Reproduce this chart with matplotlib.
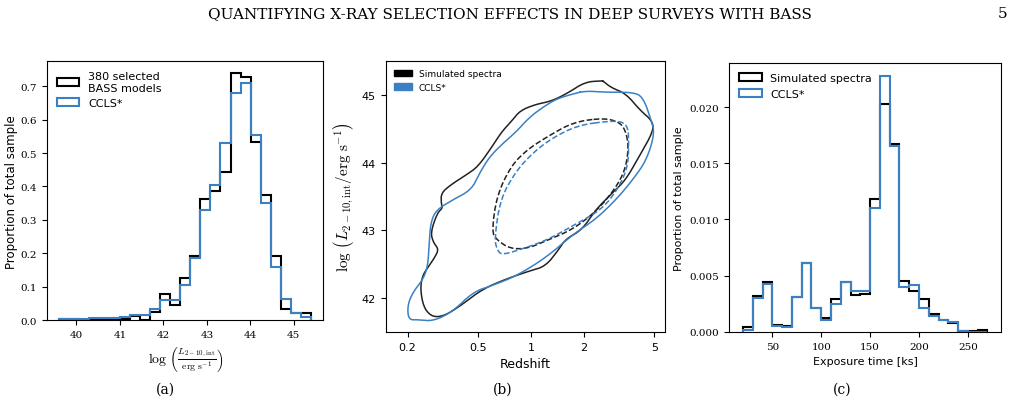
import numpy as np
import matplotlib
matplotlib.use("Agg")
import matplotlib.pyplot as plt
from matplotlib.patches import Patch

plt.rcParams["mathtext.fontset"] = "cm"
plt.rcParams["font.family"] = "DejaVu Sans"

BLUE = "#3a80c2"

# panel (a): log L histogram
lum_edges = np.linspace(39.6, 45.4, 26)
lum_bass = [0.002, 0.002, 0.001, 0.003, 0.003, 0.004, 0.004, 0.012, 0.0, 0.023,
            0.078, 0.045, 0.125, 0.193, 0.363, 0.387, 0.443, 0.740, 0.727, 0.533,
            0.375, 0.193, 0.033, 0.022, 0.022]
lum_ccls = [0.003, 0.002, 0.004, 0.005, 0.006, 0.007, 0.008, 0.016, 0.015, 0.033,
            0.060, 0.060, 0.105, 0.185, 0.330, 0.405, 0.530, 0.680, 0.710, 0.553,
            0.350, 0.158, 0.062, 0.022, 0.008]

# panel (c): exposure time histogram
exp_edges = np.arange(20, 271, 10)
exp_sim = [0.0004, 0.0032, 0.0044, 0.0006, 0.0005, 0.0031, 0.0061, 0.0021, 0.0012,
           0.0029, 0.0044, 0.0033, 0.0034, 0.0118, 0.0203, 0.0167, 0.0045, 0.0036,
           0.0029, 0.0016, 0.0011, 0.0008, 0.0001, 0.0001, 0.0002]
exp_ccls = [0.0002, 0.0030, 0.0043, 0.0005, 0.0004, 0.0031, 0.0061, 0.0021, 0.0011,
            0.0025, 0.0044, 0.0036, 0.0036, 0.0110, 0.0228, 0.0165, 0.0040, 0.0042,
            0.0021, 0.0014, 0.0011, 0.0009, 0.0001, 0.0, 0.0]

# panel (b): contour outlines, (redshift, log L)
sim_outer_z = [2.58, 2.52, 2.02, 1.62, 1.31, 1.06, 0.87, 0.78, 0.68, 0.60, 0.50, 0.43,
               0.35, 0.31, 0.31, 0.316, 0.295, 0.27, 0.28, 0.30, 0.285, 0.26, 0.243,
               0.236, 0.246, 0.27, 0.30, 0.34, 0.41, 0.53, 0.72, 0.98, 1.21, 1.44,
               1.57, 1.95, 2.32, 2.88, 3.43, 4.08, 4.95, 4.86, 4.17, 3.45, 2.84, 2.58]
sim_outer_l = [45.20, 45.21, 45.19, 45.03, 44.91, 44.86, 44.77, 44.62, 44.45, 44.23,
               43.94, 43.82, 43.67, 43.55, 43.40, 43.33, 43.26, 42.97, 42.82, 42.72,
               42.60, 42.45, 42.33, 42.14, 41.87, 41.74, 41.72, 41.77, 41.91, 42.13,
               42.28, 42.40, 42.47, 42.72, 42.87, 43.01, 43.30, 43.55, 43.74, 44.08,
               44.47, 44.62, 44.77, 45.02, 45.11, 45.20]
ccls_outer_z = [2.03, 1.70, 1.39, 1.17, 0.98, 0.82, 0.69, 0.58, 0.51, 0.46, 0.36, 0.29,
                0.27, 0.265, 0.26, 0.245, 0.215, 0.20, 0.202, 0.23, 0.28, 0.36, 0.47,
                0.61, 0.83, 1.22, 1.73, 2.34, 3.05, 3.78, 4.52, 5.02, 4.80, 4.31, 3.78,
                2.65, 2.03]
ccls_outer_l = [45.06, 45.01, 44.94, 44.82, 44.67, 44.45, 44.28, 44.08, 43.84, 43.60,
                43.45, 43.30, 43.11, 42.79, 42.47, 42.28, 42.09, 41.90, 41.68, 41.68,
                41.66, 41.80, 42.09, 42.19, 42.33, 42.60, 42.94, 43.17, 43.46, 43.75,
                44.04, 44.43, 44.63, 44.97, 45.04, 45.04, 45.06]
sim_inner_z = [2.58, 1.74, 1.23, 0.95, 0.77, 0.64, 0.60, 0.64, 0.76, 0.95, 1.23, 1.74,
               2.36, 2.99, 3.43, 3.58, 3.43, 3.16, 2.58]
sim_inner_l = [44.66, 44.60, 44.38, 44.19, 43.95, 43.51, 42.98, 42.86, 42.73, 42.73,
               42.85, 43.02, 43.29, 43.61, 43.90, 44.24, 44.48, 44.60, 44.66]
ccls_inner_z = [2.66, 1.84, 1.31, 1.02, 0.82, 0.67, 0.62, 0.65, 0.69, 0.88, 1.24, 1.76,
                2.53, 3.14, 3.55, 3.58, 3.55, 3.27, 2.66]
ccls_inner_l = [44.61, 44.55, 44.36, 44.14, 43.87, 43.46, 42.86, 42.69, 42.64, 42.72,
                42.86, 43.08, 43.31, 43.63, 43.95, 44.30, 44.52, 44.61, 44.61]


def smooth(x, y, n=2):
    # closed Chaikin smoothing in (log z, L) space
    p = np.column_stack([np.log10(x), y])[:-1]
    for _ in range(n):
        q = np.roll(p, -1, axis=0)
        p = np.column_stack([0.75 * p + 0.25 * q, 0.25 * p + 0.75 * q]).reshape(-1, 2)
    p = np.vstack([p, p[:1]])
    return 10 ** p[:, 0], p[:, 1]


fig = plt.figure(figsize=(10.2, 4.06), dpi=100)
fig.text(0.5, 0.955, "QUANTIFYING X-RAY SELECTION EFFECTS IN DEEP SURVEYS WITH BASS",
         ha="center", fontsize=11, family="DejaVu Serif")
fig.text(0.988, 0.955, "5", ha="right", fontsize=11, family="DejaVu Serif")

# (a)
ax1 = fig.add_axes([0.046, 0.209, 0.271, 0.638])
ax1.stairs(lum_bass, lum_edges, color="k", lw=1.5)
ax1.stairs(lum_ccls, lum_edges, color=BLUE, lw=1.5)
ax1.set_xlim(39.32, 45.68)
ax1.set_ylim(0, 0.775)
ax1.set_xticks([40, 41, 42, 43, 44, 45])
ax1.set_ylabel("Proportion of total sample", fontsize=8.5, labelpad=2)
ax1.set_xlabel(r"$\log\,\left(\frac{L_{2-10,\mathrm{int}}}{\mathrm{erg\ s^{-1}}}\right)$", fontsize=10)
ax1.legend(handles=[Patch(fc="none", ec="k", lw=1.5, label="380 selected\nBASS models"),
                    Patch(fc="none", ec=BLUE, lw=1.5, label="CCLS*")],
           loc="upper left", frameon=False, fontsize=8)

# (b)
ax2 = fig.add_axes([0.378, 0.18, 0.274, 0.667])
for zx, ly, c, ls in [(sim_outer_z, sim_outer_l, "#222222", "-"),
                      (ccls_outer_z, ccls_outer_l, BLUE, "-"),
                      (sim_inner_z, sim_inner_l, "#222222", "--"),
                      (ccls_inner_z, ccls_inner_l, BLUE, "--")]:
    sx, sy = smooth(zx, ly)
    ax2.plot(sx, sy, color=c, ls=ls, lw=1.1)
ax2.set_xscale("log")
ax2.set_xlim(0.150, 5.75)
ax2.set_ylim(41.5, 45.5)
ax2.set_xticks([0.2, 0.5, 1, 2, 5])
ax2.set_xticklabels(["0.2", "0.5", "1", "2", "5"])
ax2.minorticks_off()
ax2.set_yticks([42, 43, 44, 45])
ax2.set_xlabel("Redshift", fontsize=9)
ax2.set_ylabel(r"$\log\,\left(L_{2-10,\mathrm{int}}/\mathrm{erg\ s^{-1}}\right)$", fontsize=11)
ax2.legend(handles=[Patch(fc="k", ec="k", label="Simulated spectra"),
                    Patch(fc=BLUE, ec=BLUE, label="CCLS*")],
           loc="upper left", frameon=False, fontsize=6.5)

# (c)
ax3 = fig.add_axes([0.715, 0.18, 0.266, 0.662])
ax3.stairs(exp_sim, exp_edges, color="k", lw=1.5)
ax3.stairs(exp_ccls, exp_edges, color=BLUE, lw=1.5)
ax3.set_xlim(5.9, 283.5)
ax3.set_ylim(0, 0.0239)
ax3.set_xticks([50, 100, 150, 200, 250])
ax3.set_yticks([0, 0.005, 0.010, 0.015, 0.020])
ax3.set_yticklabels(["0.000", "0.005", "0.010", "0.015", "0.020"])
ax3.set_xlabel("Exposure time [ks]", fontsize=8)
ax3.set_ylabel("Proportion of total sample", fontsize=8)
ax3.legend(handles=[Patch(fc="none", ec="k", lw=1.5, label="Simulated spectra"),
                    Patch(fc="none", ec=BLUE, lw=1.5, label="CCLS*")],
           loc="upper left", frameon=False, fontsize=8)

for ax in (ax1, ax3):
    for t in ax.get_xticklabels() + ax.get_yticklabels():
        t.set_family("DejaVu Serif")
    ax.tick_params(labelsize=7.5)
ax2.tick_params(labelsize=8)

for x, lab in [(0.162, "(a)"), (0.493, "(b)"), (0.826, "(c)")]:
    fig.text(x, 0.03, lab, ha="center", fontsize=10, family="DejaVu Serif")

fig.savefig("out.png", dpi=100)
